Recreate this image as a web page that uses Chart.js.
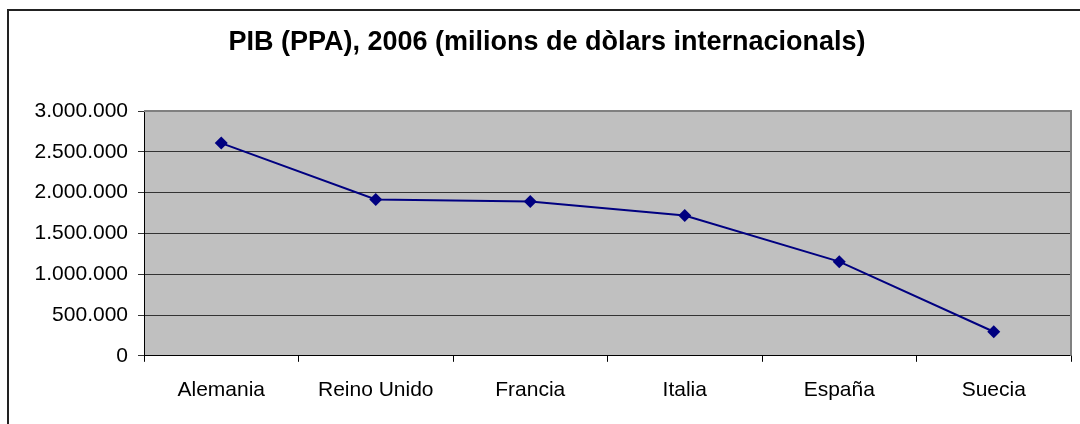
<!DOCTYPE html>
<html>
<head>
<meta charset="utf-8">
<script src="https://cdn.jsdelivr.net/npm/chart.js@4.4.0/dist/chart.umd.min.js"></script>
<style>
  html, body { margin: 0; padding: 0; background: #fff; }
  #wrap { width: 1080px; height: 424px; }
</style>
</head>
<body>
<div id="wrap"><canvas id="pib" width="1080" height="424"></canvas></div>
<script>
var countries = ["Alemania", "Reino Unido", "Francia", "Italia", "España", "Suecia"];
var gdpPPA = [2607000, 1915000, 1890000, 1718000, 1154000, 295000];
var yTicks = [0, 500000, 1000000, 1500000, 2000000, 2500000, 3000000];
var chartTitle = "PIB (PPA), 2006 (milions de dòlars internacionals)";

function dotted(n) {
  return String(n).replace(/\B(?=(\d{3})+(?!\d))/g, ".");
}

// gray plot area, gray top/right frame, outer chart frame, title
var excelLook = {
  id: "excelLook",
  beforeDraw: function (chart) {
    var ctx = chart.ctx, a = chart.chartArea;
    ctx.save();
    ctx.fillStyle = "#c0c0c0";
    ctx.fillRect(a.left, a.top, a.right - a.left, a.bottom - a.top);
    ctx.strokeStyle = "#222";
    ctx.lineWidth = 2;
    ctx.beginPath();
    ctx.moveTo(8, 424);
    ctx.lineTo(8, 10);
    ctx.lineTo(1080, 10);
    ctx.stroke();
    ctx.fillStyle = "#000";
    ctx.font = "bold 27px 'Liberation Sans', Arial";
    ctx.textAlign = "center";
    ctx.textBaseline = "middle";
    ctx.fillText(chartTitle, 547, 43);
    ctx.restore();
  },
  afterDatasetsDraw: function (chart) {
    var ctx = chart.ctx, a = chart.chartArea;
    ctx.save();
    ctx.strokeStyle = "#808080";
    ctx.lineWidth = 2;
    ctx.beginPath();
    ctx.moveTo(a.left, a.top);
    ctx.lineTo(a.right, a.top);
    ctx.lineTo(a.right, a.bottom);
    ctx.stroke();
    ctx.restore();
  }
};

new Chart("pib", {
  type: "line",
  data: {
    labels: countries,
    datasets: [
      {
        data: gdpPPA,
        borderColor: "#000080",
        backgroundColor: "#000080",
        borderWidth: 2,
        pointStyle: "rectRot",
        pointRadius: 6.5,
        pointBorderWidth: 0,
        fill: false,
        tension: 0
      }
    ]
  },
  options: {
    responsive: false,
    animation: false,
    layout: { padding: { top: 111, right: 9, bottom: 5, left: 0 } },
    plugins: {
      legend: { display: false },
      tooltip: { enabled: false },
      title: { display: false }
    },
    scales: {
      x: {
        offset: true,
        grid: { offset: true, drawOnChartArea: false, drawTicks: true, tickLength: 6, color: "#000" },
        border: { color: "#000", width: 1 },
        ticks: {
          color: "#000",
          padding: 16,
          maxRotation: 0,
          autoSkip: false,
          font: { family: "Liberation Sans, Arial", size: 21 }
        }
      },
      y: {
        min: 0,
        max: 3000000,
        afterBuildTicks: function (axis) {
          axis.ticks = yTicks.map(function (v) { return { value: v }; });
        },
        afterFit: function (axis) { axis.width = 144; },
        grid: { color: "#333", tickLength: 6, lineWidth: 1 },
        border: { color: "#000", width: 1 },
        ticks: {
          color: "#000",
          padding: 10,
          font: { family: "Liberation Sans, Arial", size: 21 },
          callback: function (v) { return dotted(v); }
        }
      }
    }
  },
  plugins: [excelLook]
});
</script>
</body>
</html>
